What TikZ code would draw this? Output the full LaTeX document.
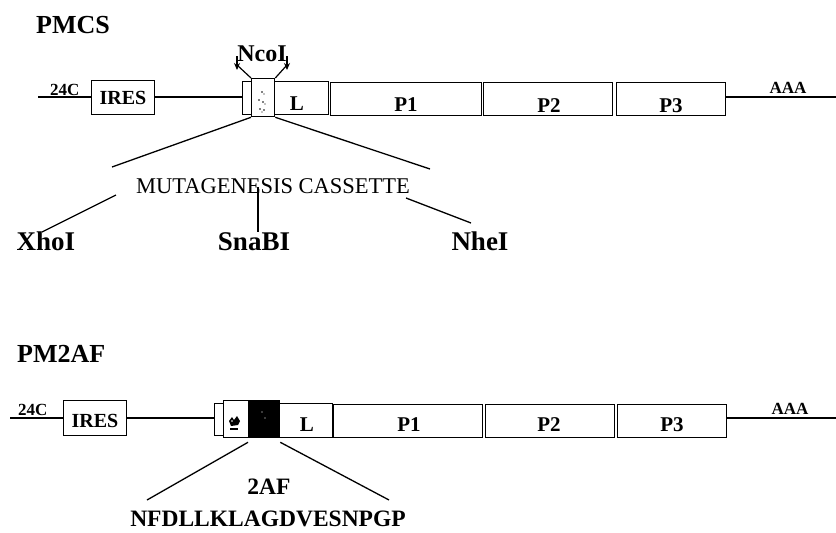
\documentclass[tikz,border=0pt]{standalone}
\usepackage{fontspec}
\setmainfont{Liberation Serif}
\usetikzlibrary{arrows.meta}
\begin{document}
\begin{tikzpicture}[x=1pt,y=-1pt,
  box/.style={draw, line width=1.3pt, inner sep=0pt, anchor=north west},
  genome/.style={line width=2.6pt},
  zoomline/.style={line width=1.3pt},
  title/.style={font=\fontsize{26}{26}\selectfont\bfseries, inner sep=0pt, anchor=base west},
  sitelabel/.style={font=\fontsize{27}{27}\selectfont\bfseries, inner sep=0pt, anchor=base},
  ncolabel/.style={font=\fontsize{24}{24}\selectfont\bfseries, inner sep=0pt, anchor=base},
  boxlabel/.style={font=\fontsize{21}{21}\selectfont\bfseries, inner sep=0pt, anchor=base},
  iresl/.style={font=\fontsize{20}{20}\selectfont\bfseries, inner sep=0pt, anchor=base},
  endlabel/.style={font=\fontsize{17}{17}\selectfont\bfseries, inner sep=0pt, anchor=base},
  caslabel/.style={font=\fontsize{22.5}{22.5}\selectfont, inner sep=0pt, anchor=base},
  peplabel/.style={font=\fontsize{23.5}{23.5}\selectfont\bfseries, inner sep=0pt, anchor=base},
  cutarrow/.style={line width=1.2pt, -{Stealth[length=7pt,width=6pt]}},
  speck/.style={fill=black, draw=none}
]
\useasboundingbox (0,0) rectangle (836,533);

% ---------------- PMCS construct ----------------
\node[title] (pmcs) at (36,33) {PMCS};

\coordinate (tstart) at (38,97);
\coordinate (tend) at (836,97);
\node[box, minimum width=63pt, minimum height=34pt] (tires) at (91,80) {};
\node[box, minimum width=9pt, minimum height=33pt] (tstub) at (242,81) {};
\node[box, minimum width=23pt, minimum height=38pt] (tcas) at (251,78) {};
\node[box, minimum width=54pt, minimum height=33pt] (tL) at (274,81) {};
\node[box, minimum width=151pt, minimum height=33pt] (tP1) at (330,82) {};
\node[box, minimum width=129pt, minimum height=33pt] (tP2) at (483,82) {};
\node[box, minimum width=109pt, minimum height=33pt] (tP3) at (616,82) {};

\draw[genome] (tstart) -- (tires.west |- tstart);
\draw[genome] (tires.east |- tstart) -- (tstub.west |- tstart);
\draw[genome] (tP3.east |- tend) -- (tend);

\node[endlabel, anchor=base west] (t24c) at (50,95) {24C};
\node[iresl] (tirest) at (123,104) {IRES};
\node[boxlabel] (tLt) at (297,110) {L};
\node[boxlabel] (tP1t) at (406,111) {P1};
\node[boxlabel] (tP2t) at (549,112) {P2};
\node[boxlabel] (tP3t) at (671,112) {P3};
\node[endlabel] (taaa) at (788,93) {AAA};

% stippled cassette
\foreach \px/\py/\r in {262/92/0.9, 264/94/0.7, 259/100/0.8, 263/102/0.9, 265/104/0.7, 260/109/0.9, 264/110/0.8, 262/112/0.6}
  \fill[speck] (\px,\py) circle (\r pt);

% NcoI site
\node[ncolabel] (ncoi) at (262,61) {NcoI};
\coordinate (nla) at (237,56);
\coordinate (nlb) at (237,70);
\coordinate (nlc) at (237,65);
\coordinate (nra) at (287,56);
\coordinate (nrb) at (287,70);
\coordinate (nrc) at (287,65);
\draw[cutarrow] (nla) -- (nlb);
\draw[cutarrow] (nra) -- (nrb);
\draw[line width=1.2pt] (nlc) -- (tcas.north west);
\draw[line width=1.2pt] (nrc) -- (tcas.north east);

% expansion of the cassette
\coordinate (tzl) at (112,167);
\coordinate (tzr) at (430,169);
\draw[zoomline] (tcas.south west) -- (tzl);
\draw[zoomline] (tcas.south east) -- (tzr);
\node[caslabel] (cas) at (273,193) {MUTAGENESIS CASSETTE};

\node[sitelabel] (xhoi) at (46,250) {XhoI};
\node[sitelabel] (snabi) at (254,250) {SnaBI};
\node[sitelabel] (nhei) at (480,250) {NheI};
\coordinate (xa) at (116,195);
\coordinate (xb) at (42,232);
\coordinate (sa) at (258,187);
\coordinate (sb) at (258,232);
\coordinate (na) at (406,198);
\coordinate (nb) at (471,223);
\draw[zoomline] (xa) -- (xb);
\draw[zoomline] (sa) -- (sb);
\draw[zoomline] (na) -- (nb);

% ---------------- PM2AF construct ----------------
\node[title] (pm2af) at (17,362) {PM2AF};

\coordinate (bstart) at (10,418);
\coordinate (bend) at (836,418);
\node[box, minimum width=63pt, minimum height=35pt] (bires) at (63,400) {};
\node[box, minimum width=9pt, minimum height=32pt] (bstub) at (214,403) {};
\node[box, minimum width=25pt, minimum height=37pt] (bcas) at (223,400) {};
\node[box, fill=black, minimum width=31pt, minimum height=37pt] (bblack) at (248,400) {};
\node[box, minimum width=53pt, minimum height=34pt] (bL) at (279,403) {};
\node[box, minimum width=149pt, minimum height=33pt] (bP1) at (333,404) {};
\node[box, minimum width=129pt, minimum height=33pt] (bP2) at (485,404) {};
\node[box, minimum width=109pt, minimum height=33pt] (bP3) at (617,404) {};

\draw[genome] (bstart) -- (bires.west |- bstart);
\draw[genome] (bires.east |- bstart) -- (bstub.west |- bstart);
\draw[genome] (bP3.east |- bend) -- (bend);

\node[endlabel, anchor=base west] (b24c) at (18,415) {24C};
\node[iresl] (birest) at (95,427) {IRES};
\node[boxlabel] (bLt) at (307,431) {L};
\node[boxlabel] (bP1t) at (409,431) {P1};
\node[boxlabel] (bP2t) at (549,431) {P2};
\node[boxlabel] (bP3t) at (672,431) {P3};
\node[endlabel] (baaa) at (790,414) {AAA};

% blot inside the remaining cassette piece
\fill[speck] (229,421) -- (232,417) -- (234,420) -- (237,416) -- (240,421) -- (238,425) -- (231,426) -- cycle;
\fill[white] (232,421) circle (0.8pt);
\fill[speck] (230,428) rectangle (238,429.5);
\fill[white] (262,412) circle (0.7pt);
\fill[white] (265,418) circle (0.6pt);

% expansion of the 2A insert
\coordinate (bzl) at (147,500);
\coordinate (bzr) at (389,500);
\draw[zoomline] ([yshift=-4pt]bblack.south west) -- (bzl);
\draw[zoomline] ([yshift=-4pt]bblack.south east) -- (bzr);
\node[peplabel] (twoaf) at (269,494) {2AF};
\node[peplabel] (pep) at (268,526) {NFDLLKLAGDVESNPGP};
\end{tikzpicture}
\end{document}
